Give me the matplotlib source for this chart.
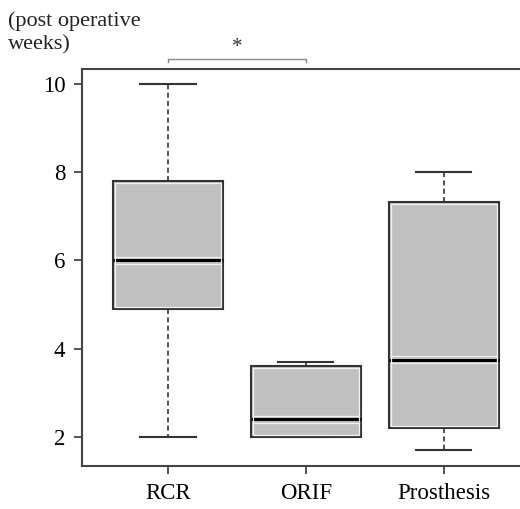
import matplotlib.pyplot as plt
from matplotlib.patches import Rectangle

# box statistics (weeks)
groups = ["RCR", "ORIF", "Prosthesis"]
whis_lo = [2.0, 2.0, 1.7]
q1 = [4.9, 2.0, 2.2]
medians = [6.0, 2.4, 3.75]
q3 = [7.8, 3.6, 7.33]
whis_hi = [10.0, 3.7, 8.0]

stats = []
for i, g in enumerate(groups):
    stats.append({"label": g, "whislo": whis_lo[i], "q1": q1[i], "med": medians[i],
                  "q3": q3[i], "whishi": whis_hi[i], "fliers": []})

plt.rcParams['font.family'] = ['Liberation Serif', 'DejaVu Serif']

fig = plt.figure(figsize=(5.2, 5.09), dpi=100)
ax = fig.add_axes([0.1577, 0.0845, 0.861, 0.780])

edge = "#333333"
pos = [1, 2, 3]
ax.bxp(stats, positions=pos, widths=0.8, patch_artist=True,
       boxprops=dict(facecolor="#c0c0c0", edgecolor=edge, linewidth=1.5),
       medianprops=dict(color="black", linewidth=2.2),
       whiskerprops=dict(color=edge, linewidth=1.2, linestyle=(0, (3, 2))),
       capprops=dict(color=edge, linewidth=1.5), capwidths=0.4)

# thin light inner outline seen in the original print
dx, dy = 0.016, 0.05
for i, p in enumerate(pos):
    ax.add_patch(Rectangle((p - 0.4 + dx, q1[i] + dy), 0.8 - 2 * dx, q3[i] - q1[i] - 2 * dy,
                           fill=False, edgecolor="#f2f2f2", lw=0.9, zorder=2.5))
    for off in (-0.075, 0.075):
        ax.plot([p - 0.4 + dx, p + 0.4 - dx], [medians[i] + off] * 2, color="#f2f2f2",
                lw=0.9, zorder=2.5)

ax.set_xlim(0.377, 3.623)
ax.set_ylim(1.34, 10.34)
ax.set_yticks([2, 4, 6, 8, 10])
ax.set_xticks(pos)
ax.set_xticklabels(groups)

for s in ax.spines.values():
    s.set_color("#444444")
    s.set_linewidth(1.5)
ax.tick_params(axis="both", length=6, width=1.3, color="#444444", labelsize=16.5, pad=6)

# significance bracket RCR vs ORIF
yb = 10.57
ax.plot([1, 1, 2, 2], [yb - 0.08, yb, yb, yb - 0.08], color="#888888", lw=1.0, clip_on=False)
ax.text(1.5, yb + 0.05, "*", ha="center", va="bottom", fontsize=15, color="#333333")

fig.text(0.016, 0.977, "(post operative\nweeks)", ha="left", va="top", fontsize=16,
         linespacing=1.3, color="#222222")

fig.savefig("out.png", dpi=100)
